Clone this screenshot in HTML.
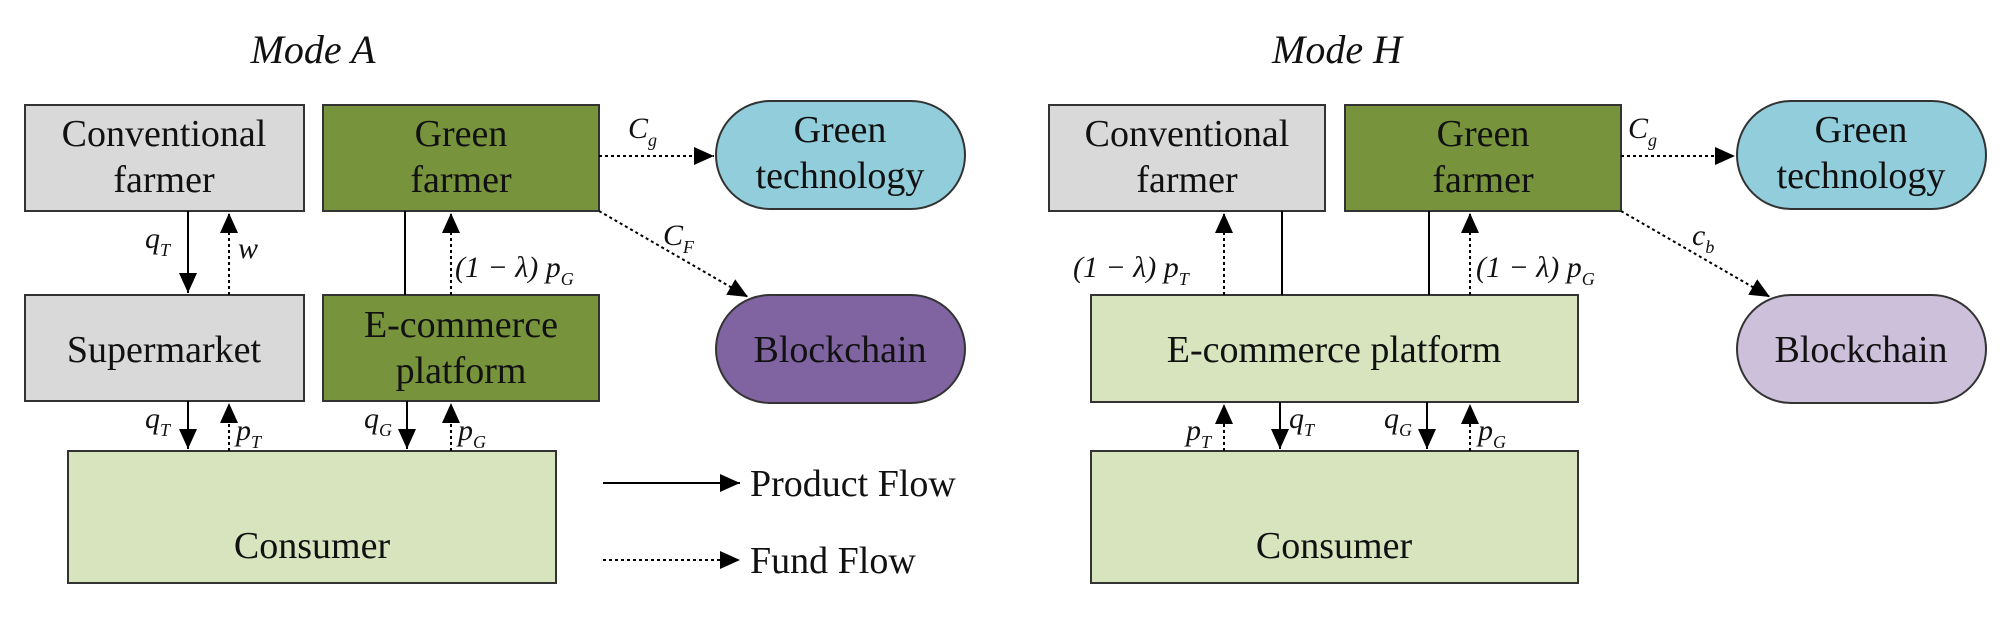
<!DOCTYPE html>
<html><head><meta charset="utf-8"><style>
html,body{margin:0;padding:0;background:#fff;}
svg{display:block;}
text{font-family:"Liberation Serif",serif;fill:#111;}
.b{font-size:38px;text-anchor:middle;}
.m{font-size:30px;font-style:italic;}
.s{font-size:18px;font-style:italic;}
</style></head><body>
<svg width="2008" height="618" viewBox="0 0 2008 618" xmlns="http://www.w3.org/2000/svg">
<defs>
<marker id="ab" markerWidth="22" markerHeight="22" refX="20" refY="9" orient="auto" markerUnits="userSpaceOnUse"><path d="M0,0 L20,9 L0,18 Z" fill="#000"/></marker>
</defs>
<g stroke="#333" stroke-width="2">
<rect x="25" y="105" width="279" height="106" fill="#d9d9d9"/>
<rect x="323" y="105" width="276" height="106" fill="#77933c"/>
<rect x="25" y="295" width="279" height="106" fill="#d9d9d9"/>
<rect x="323" y="295" width="276" height="106" fill="#77933c"/>
<rect x="68" y="451" width="488" height="132" fill="#d7e4bd"/>
<rect x="716" y="101" width="249" height="108" rx="54" fill="#92cddc"/>
<rect x="716" y="295" width="249" height="108" rx="54" fill="#8064a2"/>
<rect x="1049" y="105" width="276" height="106" fill="#d9d9d9"/>
<rect x="1345" y="105" width="276" height="106" fill="#77933c"/>
<rect x="1091" y="295" width="487" height="107" fill="#d7e4bd"/>
<rect x="1091" y="451" width="487" height="132" fill="#d7e4bd"/>
<rect x="1737" y="101" width="249" height="108" rx="54" fill="#92cddc"/>
<rect x="1737" y="295" width="249" height="108" rx="54" fill="#ccc0da"/>
</g>
<g stroke="#000" stroke-width="2" fill="none">
<line x1="188" y1="211" x2="188" y2="293" marker-end="url(#ab)"/>
<line x1="188" y1="401" x2="188" y2="449" marker-end="url(#ab)"/>
<line x1="405" y1="211" x2="405" y2="295"/>
<line x1="407" y1="401" x2="407" y2="449" marker-end="url(#ab)"/>
<line x1="603" y1="483" x2="740" y2="483" marker-end="url(#ab)"/>
<line x1="1282" y1="211" x2="1282" y2="295"/>
<line x1="1429" y1="211" x2="1429" y2="295"/>
<line x1="1280" y1="402" x2="1280" y2="449" marker-end="url(#ab)"/>
<line x1="1427" y1="402" x2="1427" y2="449" marker-end="url(#ab)"/>
</g>
<g stroke="#000" stroke-width="2" stroke-dasharray="3,3" fill="none">
<line x1="229" y1="295" x2="229" y2="213" marker-end="url(#ab)"/>
<line x1="229" y1="451" x2="229" y2="403" marker-end="url(#ab)"/>
<line x1="451" y1="295" x2="451" y2="213" marker-end="url(#ab)"/>
<line x1="451" y1="451" x2="451" y2="403" marker-end="url(#ab)"/>
<line x1="599" y1="156" x2="714" y2="156" marker-end="url(#ab)"/>
<line x1="599" y1="211" x2="748" y2="297" marker-end="url(#ab)"/>
<line x1="603" y1="560" x2="740" y2="560" marker-end="url(#ab)"/>
<line x1="1224" y1="295" x2="1224" y2="213" marker-end="url(#ab)"/>
<line x1="1470" y1="295" x2="1470" y2="213" marker-end="url(#ab)"/>
<line x1="1224" y1="451" x2="1224" y2="404" marker-end="url(#ab)"/>
<line x1="1470" y1="451" x2="1470" y2="404" marker-end="url(#ab)"/>
<line x1="1621" y1="156" x2="1735" y2="156" marker-end="url(#ab)"/>
<line x1="1621" y1="211" x2="1770" y2="297" marker-end="url(#ab)"/>
</g>
<text x="313" y="63" font-size="40" font-style="italic" text-anchor="middle">Mode  A</text>
<text x="1337" y="63" font-size="40" font-style="italic" text-anchor="middle">Mode  H</text>
<text class="b" x="164" y="146">Conventional</text><text class="b" x="164" y="192">farmer</text>
<text class="b" x="461" y="146">Green</text><text class="b" x="461" y="192">farmer</text>
<text class="b" x="164" y="362">Supermarket</text>
<text class="b" x="461" y="337">E-commerce</text><text class="b" x="461" y="383">platform</text>
<text class="b" x="312" y="558">Consumer</text>
<text class="b" x="840" y="142">Green</text><text class="b" x="840" y="188">technology</text>
<text class="b" x="840" y="362">Blockchain</text>
<text x="750" y="496" font-size="38">Product Flow</text>
<text x="750" y="573" font-size="38">Fund Flow</text>
<text class="b" x="1187" y="146">Conventional</text><text class="b" x="1187" y="192">farmer</text>
<text class="b" x="1483" y="146">Green</text><text class="b" x="1483" y="192">farmer</text>
<text class="b" x="1334" y="362">E-commerce platform</text>
<text class="b" x="1334" y="558">Consumer</text>
<text class="b" x="1861" y="142">Green</text><text class="b" x="1861" y="188">technology</text>
<text class="b" x="1861" y="362">Blockchain</text>
<!-- Mode A math -->
<text class="m" x="145" y="248">q<tspan class="s" dy="8">T</tspan></text>
<text class="m" x="238" y="258">w</text>
<text class="m" x="455" y="277">(1 − λ) p<tspan class="s" dy="8">G</tspan></text>
<text class="m" x="145" y="428">q<tspan class="s" dy="8">T</tspan></text>
<text class="m" x="236" y="440">p<tspan class="s" dy="8">T</tspan></text>
<text class="m" x="364" y="428">q<tspan class="s" dy="8">G</tspan></text>
<text class="m" x="458" y="440">p<tspan class="s" dy="8">G</tspan></text>
<text class="m" x="628" y="138">C<tspan class="s" dy="8">g</tspan></text>
<text class="m" x="663" y="245">C<tspan class="s" dy="8">F</tspan></text>
<!-- Mode H math -->
<text class="m" x="1073" y="277">(1 − λ) p<tspan class="s" dy="8">T</tspan></text>
<text class="m" x="1476" y="277">(1 − λ) p<tspan class="s" dy="8">G</tspan></text>
<text class="m" x="1186" y="440">p<tspan class="s" dy="8">T</tspan></text>
<text class="m" x="1289" y="428">q<tspan class="s" dy="8">T</tspan></text>
<text class="m" x="1384" y="428">q<tspan class="s" dy="8">G</tspan></text>
<text class="m" x="1478" y="440">p<tspan class="s" dy="8">G</tspan></text>
<text class="m" x="1628" y="138">C<tspan class="s" dy="8">g</tspan></text>
<text class="m" x="1692" y="245">c<tspan class="s" dy="8">b</tspan></text>
</svg>
</body></html>
